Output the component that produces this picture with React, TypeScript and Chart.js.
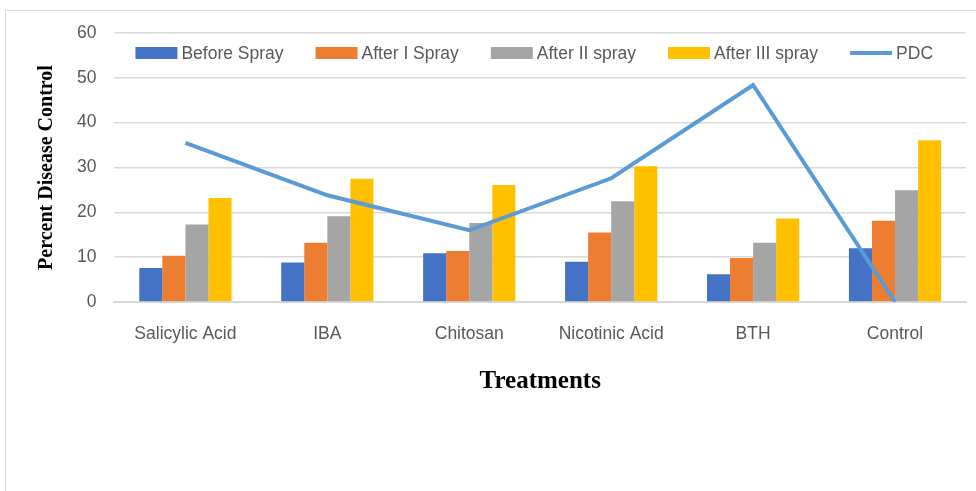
import { useEffect, useRef } from "react";
import { Chart, registerables } from "chart.js";

Chart.register(...registerables);

const categories = ["Salicylic Acid", "IBA", "Chitosan", "Nicotinic Acid", "BTH", "Control"];
const beforeSpray = [7.6, 8.8, 10.9, 9.0, 6.2, 12.0];
const afterISpray = [10.3, 13.2, 11.4, 15.5, 9.8, 18.1];
const afterIISpray = [17.3, 19.1, 17.6, 22.5, 13.2, 24.9];
const afterIIISpray = [23.2, 27.5, 26.1, 30.3, 18.6, 36.1];
const pdc = [35.5, 23.8, 16.0, 27.6, 48.4, 0];
const yTicks = [0, 10, 20, 30, 40, 50, 60];

const SANS = "'Liberation Sans Narrow', 'Liberation Sans', sans-serif";
const SERIF = "'Liberation Serif', 'DejaVu Serif', serif";
const TEXT_GRAY = "#595959";
const LABEL_SIZE = 17.5;

const insideLegend = {
  id: "insideLegend",
  afterDraw(chart: any) {
    const ctx = chart.ctx as CanvasRenderingContext2D;
    const area = chart.chartArea;
    const items = [1, 2, 3, 4, 0].map((i) => chart.data.datasets[i]);
    const boxW = 42;
    const boxH = 12;
    const gapText = 4;
    const gapItem = 32;
    ctx.save();
    ctx.font = `${LABEL_SIZE}px ${SANS}`;
    const widths = items.map((d: any) => ctx.measureText(d.label).width);
    const total =
      widths.reduce((a: number, b: number) => a + b + boxW + gapText, 0) + gapItem * (items.length - 1);
    let x = (area.left + area.right) / 2 - total / 2 - 6;
    const y = area.top + 20;
    ctx.textBaseline = "middle";
    ctx.textAlign = "left";
    items.forEach((d: any, i: number) => {
      if (d.type === "line") {
        ctx.strokeStyle = d.borderColor;
        ctx.lineWidth = d.borderWidth;
        ctx.beginPath();
        ctx.moveTo(x, y);
        ctx.lineTo(x + boxW, y);
        ctx.stroke();
      } else {
        ctx.fillStyle = d.backgroundColor;
        ctx.fillRect(x, y - boxH / 2, boxW, boxH);
      }
      ctx.fillStyle = TEXT_GRAY;
      ctx.fillText(d.label, x + boxW + gapText, y + 1);
      x += boxW + gapText + widths[i] + gapItem;
    });
    ctx.restore();
  },
};

export default function App() {
  const ref = useRef<HTMLCanvasElement>(null);

  useEffect(() => {
    if (!ref.current) return;
    const barCommon = { type: "bar" as const, order: 1, categoryPercentage: 0.65, barPercentage: 1.0, borderWidth: 0 };
    const chart = new Chart(ref.current, {
      type: "bar",
      data: {
        labels: categories,
        datasets: [
          {
            type: "line",
            label: "PDC",
            data: pdc,
            borderColor: "#5b9bd5",
            backgroundColor: "#5b9bd5",
            borderWidth: 4,
            pointRadius: 0,
            tension: 0,
            order: 0,
          } as any,
          { ...barCommon, label: "Before Spray", data: beforeSpray, backgroundColor: "#4472c4" },
          { ...barCommon, label: "After I Spray", data: afterISpray, backgroundColor: "#ed7d31" },
          { ...barCommon, label: "After II spray", data: afterIISpray, backgroundColor: "#a5a5a5" },
          { ...barCommon, label: "After III spray", data: afterIIISpray, backgroundColor: "#ffc000" },
        ],
      },
      options: {
        responsive: false,
        animation: false,
        devicePixelRatio: 1,
        layout: { padding: { left: 35, top: 33, right: 10, bottom: 94 } },
        plugins: { legend: { display: false }, tooltip: { enabled: false } },
        scales: {
          x: {
            grid: { display: false, drawTicks: false },
            border: { display: true, color: "#d9d9d9", width: 2 },
            ticks: {
              color: TEXT_GRAY,
              font: { family: SANS, size: LABEL_SIZE },
              padding: 22,
              maxRotation: 0,
              autoSkip: false,
            },
            title: {
              display: true,
              text: "Treatments",
              color: "#000",
              font: { family: SERIF, size: 25, weight: "bold" },
              padding: { top: 0, bottom: 0 },
            },
          },
          y: {
            min: 0,
            max: 60,
            afterBuildTicks: (axis: any) => {
              axis.ticks = yTicks.map((v) => ({ value: v }));
            },
            grid: { color: "#d9d9d9", lineWidth: 1.5, drawTicks: false },
            border: { display: false },
            ticks: {
              color: TEXT_GRAY,
              font: { family: SANS, size: LABEL_SIZE },
              padding: 18,
            },
            title: {
              display: true,
              text: "Percent Disease Control",
              color: "#000",
              font: { family: SERIF, size: 20, weight: "bold" },
              padding: { top: 0, bottom: 0 },
            },
          },
        },
      },
      plugins: [insideLegend],
    });
    return () => chart.destroy();
  }, []);

  return (
    <div style={{ position: "fixed", left: 0, top: 0, width: 976, height: 491, background: "#fff", overflow: "hidden" }}>
      <div
        style={{
          position: "absolute",
          left: 5,
          top: 10,
          width: 1200,
          height: 800,
          borderLeft: "1px solid #d9d9d9",
          borderTop: "1px solid #d9d9d9",
        }}
      />
      <canvas ref={ref} width={976} height={491} style={{ position: "absolute", left: 0, top: 0, width: 976, height: 491 }} />
    </div>
  );
}
